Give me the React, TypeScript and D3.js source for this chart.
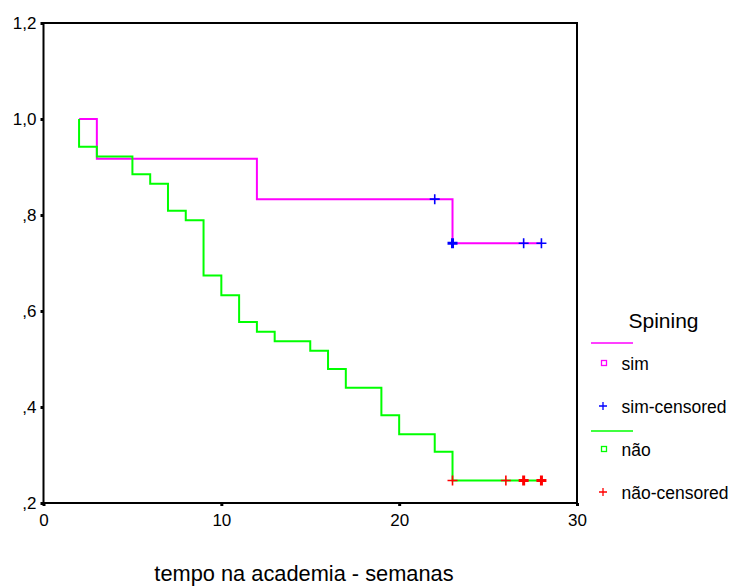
import React, { useRef, useEffect } from "react";
import * as d3 from "d3";

// Kaplan-Meier steps (time in weeks, cumulative survival)
const simTimes = [2, 3, 12, 23, 28];
const simSurv = [1.0, 0.917, 0.833, 0.741, 0.741];
const naoTimes = [2, 2, 3, 5, 6, 7, 8, 9, 10, 11, 12, 13, 15, 16, 17, 19, 20, 22, 23, 28];
const naoSurv = [1.0, 0.942, 0.922, 0.885, 0.865, 0.809, 0.789, 0.674, 0.633, 0.577, 0.557, 0.537, 0.517, 0.479, 0.44, 0.383, 0.343, 0.307, 0.247, 0.247];

// censored observations (time, how many at that time)
const simCensTimes = [22, 23, 27, 28];
const simCensCount = [1, 2, 1, 1];
const naoCensTimes = [23, 26, 27, 28];
const naoCensCount = [1, 1, 2, 2];

const xTicks = [0, 10, 20, 30];
const yTicks = [0.2, 0.4, 0.6, 0.8, 1.0, 1.2];
const yTickLabels = [",2", ",4", ",6", ",8", "1,0", "1,2"];

const legendLabels = ["sim", "sim-censored", "não", "não-censored"];

const FONT = "'Liberation Sans', Arial, sans-serif";

export default function App() {
  const svgRef = useRef<SVGSVGElement>(null);

  useEffect(() => {
    const width = 731;
    const height = 588;
    const left = 43.5, right = 577, top = 23, bottom = 503;

    const svg = d3.select(svgRef.current);
    svg.selectAll("*").remove();
    svg.attr("width", width).attr("height", height);

    const x = d3.scaleLinear().domain([0, 30]).range([left, right]);
    const y = d3.scaleLinear().domain([0.2, 1.2]).range([bottom, top]);

    // frame
    svg.append("rect")
      .attr("x", left).attr("y", top)
      .attr("width", right - left).attr("height", bottom - top)
      .attr("fill", "none").attr("stroke", "#000").attr("stroke-width", 2);

    // y axis
    const yAxis = svg.append("g")
      .attr("transform", `translate(${left},0)`)
      .call(d3.axisLeft(y).tickValues(yTicks).tickSize(3)
        .tickFormat((d, i) => yTickLabels[i]));
    yAxis.select(".domain").remove();
    yAxis.selectAll(".tick line").attr("stroke-width", 3).attr("stroke", "#000");
    yAxis.selectAll(".tick text")
      .attr("x", -7).attr("dy", "0.35em")
      .style("font-family", FONT).style("font-size", "17px").attr("fill", "#000");

    // x axis
    const xAxis = svg.append("g")
      .attr("transform", `translate(0,${bottom})`)
      .call(d3.axisBottom(x).tickValues(xTicks).tickSize(3).tickFormat(d3.format("d")));
    xAxis.select(".domain").remove();
    xAxis.selectAll(".tick line").attr("stroke-width", 3).attr("stroke", "#000");
    xAxis.selectAll(".tick text")
      .attr("y", 11).attr("dy", "0.71em")
      .style("font-family", FONT).style("font-size", "17px").attr("fill", "#000");

    svg.append("text")
      .attr("x", 304).attr("y", 581)
      .attr("text-anchor", "middle")
      .style("font-family", FONT).style("font-size", "21.8px")
      .text("tempo na academia - semanas");

    const drawCurve = (times: number[], surv: number[], color: string) => {
      const pts = times.map((t, i) => [x(t), y(surv[i])] as [number, number]);
      svg.append("path")
        .attr("d", d3.line().curve(d3.curveStepAfter)(pts))
        .attr("fill", "none").attr("stroke", color).attr("stroke-width", 2);
    };

    const survAt = (times: number[], surv: number[], t: number) => {
      let s = surv[0];
      times.forEach((tt, i) => { if (tt <= t) s = surv[i]; });
      return s;
    };

    const drawCensored = (cTimes: number[], counts: number[], times: number[], surv: number[], color: string) => {
      cTimes.forEach((t, i) => {
        const cx = x(t), cy = y(survAt(times, surv, t));
        const sw = counts[i] > 1 ? 3 : 1.6;
        const r = 5;
        svg.append("path")
          .attr("d", `M${cx - r},${cy}H${cx + r}M${cx},${cy - r}V${cy + r}`)
          .attr("stroke", color).attr("stroke-width", sw).attr("fill", "none");
      });
    };

    drawCurve(simTimes, simSurv, "#ff00ff");
    drawCurve(naoTimes, naoSurv, "#00ff00");
    drawCensored(simCensTimes, simCensCount, simTimes, simSurv, "#0000ff");
    drawCensored(naoCensTimes, naoCensCount, naoTimes, naoSurv, "#ff0000");

    // legend
    const lg = svg.append("g");
    lg.append("text")
      .attr("x", 663.5).attr("y", 328).attr("text-anchor", "middle")
      .style("font-family", FONT).style("font-size", "21px")
      .text("Spining");

    const rows = [
      { kind: "line", color: "#ff00ff", y: 343 },
      { kind: "square", color: "#ff00ff", y: 363, label: legendLabels[0] },
      { kind: "cross", color: "#0000ff", y: 406, label: legendLabels[1] },
      { kind: "line", color: "#00ff00", y: 431 },
      { kind: "square", color: "#00ff00", y: 449, label: legendLabels[2] },
      { kind: "cross", color: "#ff0000", y: 492, label: legendLabels[3] },
    ];
    rows.forEach((r) => {
      if (r.kind === "line") {
        lg.append("line")
          .attr("x1", 591).attr("x2", 633).attr("y1", r.y).attr("y2", r.y)
          .attr("stroke", r.color).attr("stroke-width", 1.5);
        return;
      }
      if (r.kind === "square") {
        lg.append("rect")
          .attr("x", 601.5).attr("y", r.y - 2.5).attr("width", 5).attr("height", 5)
          .attr("fill", "none").attr("stroke", r.color).attr("stroke-width", 1.3);
      } else {
        lg.append("path")
          .attr("d", `M${599},${r.y}H${607}M${603},${r.y - 4}V${r.y + 4}`)
          .attr("stroke", r.color).attr("stroke-width", 1.3);
      }
      lg.append("text")
        .attr("x", 621.5).attr("y", r.y + 7)
        .style("font-family", FONT).style("font-size", "17.5px")
        .text(r.label as string);
    });
  }, []);

  return (
    <svg ref={svgRef} style={{ position: "absolute", left: 0, top: 0, background: "#fff" }}></svg>
  );
}
